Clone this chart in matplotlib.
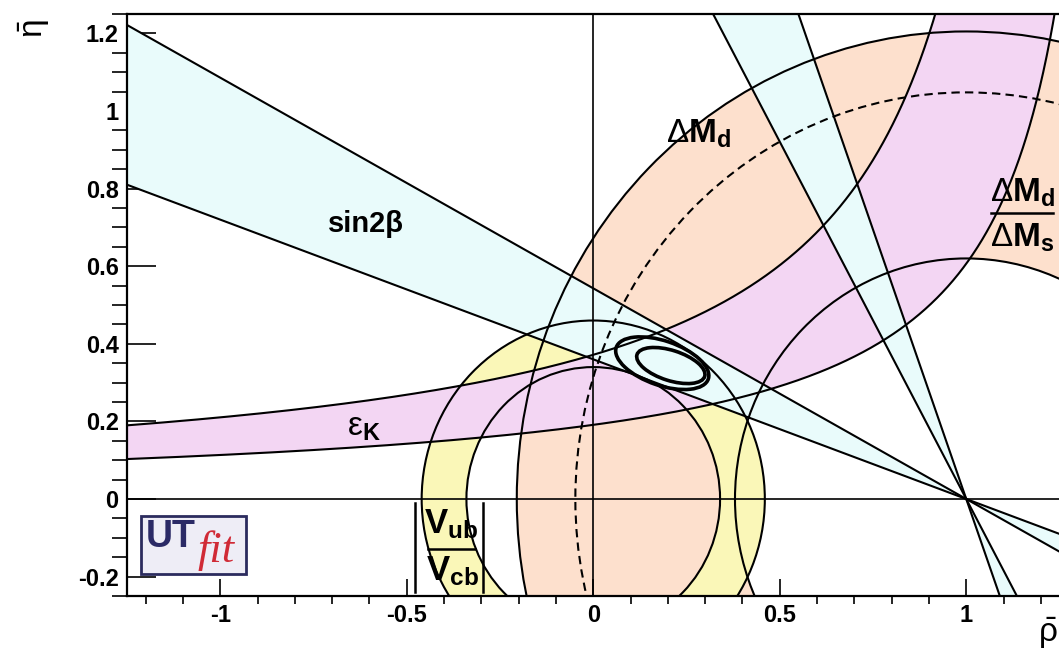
import numpy as np
import matplotlib
matplotlib.use("Agg")
import matplotlib.pyplot as plt
from matplotlib.patches import Wedge, Circle, Ellipse, FancyBboxPatch
from matplotlib.ticker import MultipleLocator, FuncFormatter

plt.rcParams['font.family'] = ['Liberation Sans', 'DejaVu Sans']
plt.rcParams['mathtext.fontset'] = 'custom'
plt.rcParams['mathtext.rm'] = 'Liberation Sans'
plt.rcParams['mathtext.it'] = 'Liberation Sans:italic'
plt.rcParams['mathtext.bf'] = 'Liberation Sans:bold'

# constraint parameters (rho-bar, eta-bar units)
apex = (1.0, 0.0)
beta_deg = [19.8, 28.5]            # sin2beta edges, beta solution
dmd_radii = [0.62, 1.205]          # Delta M_d band edges, centred on apex
dms_radius = 1.048                 # dashed Delta M_s sensitivity circle
vub_radii = [0.34, 0.46]           # |Vub/Vcb| ring, centred on origin
epsk_k = [0.485, 0.279]            # eps_K edges: eta * (a - rho) = k
epsk_a = [1.305, 1.46]
contour_center = [(0.185, 0.35), (0.208, 0.344)]
contour_size = [(0.26, 0.115), (0.19, 0.078)]   # full widths
contour_angle = [-18, -17]

peach = '#fde0cd'
yellow = '#faf7b8'
pink = '#f3d6f3'
cyan = '#e9fbfb'

fig = plt.figure(figsize=(10.59, 6.59), dpi=100)
ax = fig.add_axes([127 / 1059, 63 / 659, 932.5 / 1059, 582 / 659])
ax.set_xlim(-1.25, 1.25)
ax.set_ylim(-0.25, 1.25)

# filled bands, drawn bottom to top as in the original
ax.add_patch(Wedge(apex, dmd_radii[1], 0, 360, width=dmd_radii[1] - dmd_radii[0],
                   fc=peach, ec='none', zorder=1))
ax.add_patch(Wedge((0, 0), vub_radii[1], 0, 360, width=vub_radii[1] - vub_radii[0],
                   fc=yellow, ec='none', zorder=2))

x = np.linspace(-1.3, 1.3, 2000)
top = 3.0
upper = np.where(x < epsk_a[0] - epsk_k[0] / top, epsk_k[0] / (epsk_a[0] - x), top)
lower = np.minimum(epsk_k[1] / (epsk_a[1] - x), top)
ax.fill_between(x, lower, upper, where=upper > lower, color=pink, lw=0, zorder=3)

# sin2beta: two solutions (beta and pi/2 - beta), wedges through (1, 0)
for t1, t2 in [(180 - beta_deg[1], 180 - beta_deg[0]), (90 + beta_deg[0], 90 + beta_deg[1])]:
    for off in (0, 180):
        ax.add_patch(Wedge(apex, 6, t1 + off, t2 + off, fc=cyan, ec='none', zorder=4))

# edges
lw = 1.5
for b in beta_deg:
    ax.axline(apex, slope=-np.tan(np.radians(b)), color='k', lw=lw, zorder=5)
    ax.axline(apex, slope=-np.tan(np.radians(90 - b)), color='k', lw=lw, zorder=5)
for r in dmd_radii:
    ax.add_patch(Circle(apex, r, fill=False, ec='k', lw=lw, zorder=5))
ax.add_patch(Circle(apex, dms_radius, fill=False, ec='k', lw=lw, ls=(0, (4, 2.5)), zorder=5))
for r in vub_radii:
    ax.add_patch(Circle((0, 0), r, fill=False, ec='k', lw=lw, zorder=5))
for k, a in zip(epsk_k, epsk_a):
    xs = x[x < a - k / top]
    ax.plot(xs, k / (a - xs), color='k', lw=lw, zorder=5)

ax.axhline(0, color='k', lw=1.2, zorder=5)
ax.axvline(0, color='k', lw=1.2, zorder=5)

# fit contours
for c, (w, h), ang in zip(contour_center, contour_size, contour_angle):
    ax.add_patch(Ellipse(c, w, h, angle=ang, fill=False, ec='k', lw=2.6, zorder=6))

# labels of the constraints
ax.text(-0.609, 0.709, 'sin2β', fontsize=21, fontweight='bold', ha='center', va='center', zorder=7)
ax.text(0.283, 0.94, r'$\Delta\mathbf{M}_\mathbf{d}$', fontsize=24, ha='center', va='center', zorder=7)

# Delta M_d / Delta M_s written as a fraction
ax.text(1.150, 0.790, r'$\Delta\mathbf{M}_\mathbf{d}$', fontsize=24, ha='center', va='center', zorder=7)
ax.text(1.150, 0.672, r'$\Delta\mathbf{M}_\mathbf{s}$', fontsize=24, ha='center', va='center', zorder=7)
ax.plot([1.067, 1.233], [0.737, 0.737], color='k', lw=1.8, zorder=7)

ax.text(-0.614, 0.183, r'$\mathrm{\varepsilon}_\mathbf{K}$', fontsize=24, ha='center', va='center', zorder=7)

# |Vub / Vcb| written with bars and a fraction line
ax.text(-0.382, -0.066, r'$\mathbf{V}_\mathbf{ub}$', fontsize=25, ha='center', va='center', zorder=7)
ax.text(-0.377, -0.187, r'$\mathbf{V}_\mathbf{cb}$', fontsize=25, ha='center', va='center', zorder=7)
ax.plot([-0.443, -0.317], [-0.129, -0.129], color='k', lw=1.8, zorder=7)
for xb in (-0.477, -0.295):
    ax.plot([xb, xb], [-0.010, -0.240], color='k', lw=1.8, zorder=7)

# UTfit logo
ax.add_patch(FancyBboxPatch((-1.212, -0.193), 0.282, 0.149, boxstyle='square,pad=0',
                            fc='#eeedf6', ec='#2b2b5e', lw=2, zorder=8))
ax.text(-1.134, -0.097, 'UT', color='#2b2a66', fontsize=27, fontweight='bold',
        ha='center', va='center', zorder=9)
ax.text(-1.012, -0.132, 'fit', color='#d02a36', fontsize=32, style='italic',
        family='Liberation Serif', ha='center', va='center', zorder=9)

# axes styling
ax.xaxis.set_major_locator(MultipleLocator(0.5))
ax.xaxis.set_minor_locator(MultipleLocator(0.1))
ax.yaxis.set_major_locator(MultipleLocator(0.2))
ax.yaxis.set_minor_locator(MultipleLocator(0.05))
fmt = FuncFormatter(lambda v, p: f'{round(v, 2) + 0:g}')
ax.xaxis.set_major_formatter(fmt)
ax.yaxis.set_major_formatter(fmt)
ax.tick_params(direction='in', top=False, right=False, width=1.2, pad=6, labelsize=17)
ax.tick_params(axis='y', which='major', length=21)
ax.tick_params(axis='y', which='minor', length=10.5, width=1.2)
ax.tick_params(axis='x', which='major', length=12)
ax.tick_params(axis='x', which='minor', length=6, width=1.2)
for lab in ax.get_xticklabels() + ax.get_yticklabels():
    lab.set_fontweight('bold')
for s in ax.spines.values():
    s.set_linewidth(1.6)
    s.set_zorder(10)
ax.spines['right'].set_visible(False)

ax.set_xlabel(r'$\bar{\mathrm{\rho}}$', fontsize=24)
ax.xaxis.set_label_coords(0.987, -0.034)
ax.set_ylabel(r'$\bar{\mathrm{\eta}}$', fontsize=24, rotation=90)
ax.yaxis.set_label_coords(-0.099, 0.975)
ax.yaxis.label.set_va('center')

fig.savefig('out.png', dpi=100)
